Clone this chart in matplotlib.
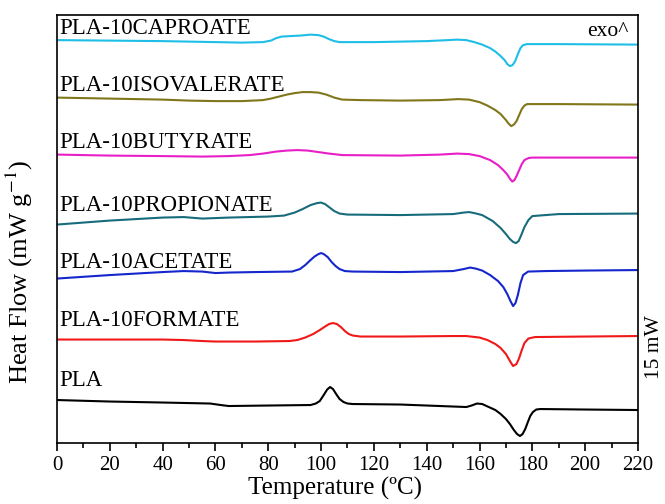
import matplotlib.pyplot as plt

plt.rcParams['font.family'] = ['Liberation Serif', 'DejaVu Serif']
plt.rcParams['mathtext.fontset'] = 'stix'

# DSC heating scans, curves stacked (arbitrary vertical units)
samples = ['PLA', 'PLA-10FORMATE', 'PLA-10ACETATE', 'PLA-10PROPIONATE',
           'PLA-10BUTYRATE', 'PLA-10ISOVALERATE', 'PLA-10CAPROATE']
colors = ['#000000', '#F01818', '#1426CC', '#176C7C', '#E81EC8', '#80761A', '#1EBEE6']

t_pla = [0, 20, 40, 58, 62, 65, 80, 96, 98, 99.5, 101, 102.3, 103.4, 104.5, 105.7, 107, 108.5, 110, 112,
         130, 150, 155, 157, 159, 161, 163.5, 166, 168, 170, 171.5, 173, 174.2, 175.3, 176.3, 177.3,
         178.3, 179.2, 180.2, 181.5, 183, 200, 220]
hf_pla = [43, 41.5, 40.5, 39.5, 38, 37, 37.5, 38, 39.5, 42, 48, 53.5, 56, 54, 49, 44, 41, 39.5, 39,
          38.5, 36.5, 36, 37.5, 39.5, 39, 36, 33, 29, 24, 19, 13, 9, 7, 9, 14,
          21, 27, 31, 33.5, 34, 33.5, 33]

t_for = [0, 20, 40, 48, 55, 60, 75, 88, 91, 94, 97, 99.5, 101.5, 103, 104.5, 106, 107.5, 109, 110.5, 112,
         115, 130, 150, 155, 160, 163, 166, 168, 170, 171.5, 172.7, 174, 175, 176, 177, 178.5, 181, 200, 220]
hf_for = [103.5, 103.5, 103.5, 103, 102, 101.5, 101.5, 102, 103, 105.5, 109, 113, 116.5, 119, 120, 119,
          116, 112, 109, 107.5, 106.5, 106.5, 107, 107, 105.5, 103, 99, 95, 89, 82, 77, 79, 85, 93, 100,
          104.5, 106, 106.5, 107]

t_ace = [0, 20, 40, 48, 55, 60, 65, 75, 89, 92, 94, 96, 97.5, 99, 100, 101, 102.5, 104, 105.5, 107, 109,
         112, 130, 150, 154, 156.4, 158.5, 161, 164, 167, 169, 170.5, 171.7, 172.7, 173.6, 174.5, 175.5,
         176.5, 178.4, 185, 200, 220]
hf_ace = [164.5, 168, 171, 172, 171.5, 170, 170.5, 171, 171.5, 174, 178, 183, 186.5, 189, 190, 189, 186,
          181, 177, 174, 172, 171.5, 171, 172, 174, 175.5, 174.5, 172.5, 168, 162, 156, 149, 142, 137,
          140, 148, 160, 168, 171.5, 172, 172.5, 173]

t_pro = [0, 20, 40, 48, 55, 65, 80, 86, 90, 93, 96, 98.5, 100, 101.5, 103, 105, 107, 110, 130, 150, 154,
         156, 158, 161, 165, 168, 170, 171.5, 172.8, 173.8, 174.8, 175.8, 177, 178.5, 180, 190, 220]
hf_pro = [218.5, 222.5, 225.5, 226, 224.5, 225.5, 226.5, 227.5, 230.5, 234, 238, 240, 240.5, 239, 236,
          232, 229.5, 228.5, 228, 229, 230.5, 231, 230, 228, 222, 215, 209, 204, 201, 200, 202, 208, 216,
          223, 227, 229, 229.5]

t_but = [0, 20, 40, 55, 65, 73, 78, 83, 87, 91, 95, 99, 103, 108, 130, 145, 151.5, 156, 160, 164, 167,
         169, 170.5, 171.6, 172.4, 173.2, 174, 175, 176, 177, 178.5, 180, 190, 220]
hf_but = [288.5, 287.5, 287, 286.5, 287, 288, 289.5, 291.5, 292.5, 293, 292.5, 291, 289.5, 288, 287.5,
          288.5, 289.5, 289, 287, 283, 278, 273, 268.5, 264, 261.5, 263, 267, 273, 279, 283, 285, 285.5,
          285.5, 285.5]

t_iso = [0, 20, 40, 50, 60, 70, 78, 81, 84, 87, 90, 93, 96, 99, 102, 105, 108, 115, 130, 145, 152, 156,
         160, 163, 166, 168, 170, 171, 172, 173, 174, 175, 176, 177, 178, 180, 190, 220]
hf_iso = [345.5, 344.5, 343.5, 342.5, 342, 342, 343, 344.5, 346.5, 348.5, 350, 351, 351, 350.5, 348.5,
          345.5, 343.5, 343, 342.5, 343, 344, 343.5, 341, 337.5, 333, 329, 323, 319.5, 317, 318.5, 322,
          328, 334, 337.5, 339, 339, 339, 338.5]

t_cap = [0, 20, 40, 60, 70, 78, 81, 83, 85, 88, 92, 96, 99, 101, 103, 105, 107, 110, 120, 140, 148, 151.5,
         155, 158, 161, 164, 166, 168, 169.5, 170.5, 171.5, 172.5, 173.5, 174.5, 175.5, 176.5, 178, 180,
         190, 220]
hf_cap = [403, 402.5, 402, 401, 400.5, 401, 402.5, 405, 406.5, 407, 407.5, 408.5, 408, 406.5, 404, 402,
          401, 401, 401, 402, 403, 403.5, 403, 401, 398.5, 395, 391.5, 387, 383, 379, 377, 378, 382, 389,
          395, 398, 399, 399, 399, 398.5]

temps = [t_pla, t_for, t_ace, t_pro, t_but, t_iso, t_cap]
flows = [hf_pla, hf_for, hf_ace, hf_pro, hf_but, hf_iso, hf_cap]
label_y = [63, 123, 181, 238, 301, 358, 415]

fig = plt.figure(figsize=(6.65, 5.04), dpi=100)
ax = fig.add_axes([0.0857, 0.121, 0.8737, 0.849])

for t, hf, c, name, ly in zip(temps, flows, colors, samples, label_y):
    ax.plot(t, hf, color=c, lw=1.5)
    ax.text(1.0, ly, name, fontsize=16.5, va='center', ha='left')

ax.text(216.5, 412, 'exo^', fontsize=15.5, ha='right', va='center')
ax.text(1.012, 0.224, '15 mW', transform=ax.transAxes, rotation=90,
        fontsize=15.5, ha='left', va='center')

ax.set_xlim(0, 220)
ax.set_ylim(0, 428)
ax.set_xticks(range(0, 221, 20))
ax.set_xticks(range(10, 220, 20), minor=True)
ax.set_yticks([])
ax.tick_params(axis='x', which='major', direction='out', length=6, width=1.2, labelsize=15, pad=3)
ax.tick_params(axis='x', which='minor', direction='out', length=3.5, width=1.2)
for s in ax.spines.values():
    s.set_linewidth(1.2)

ax.set_xlabel('Temperature (ºC)', fontsize=18)
ax.xaxis.set_label_coords(0.478, -0.080)
ax.set_ylabel('Heat Flow (mW g$^{-1}$)', fontsize=19)
ax.yaxis.set_label_coords(-0.038, 0.40)

fig.savefig('out.png', dpi=100)
